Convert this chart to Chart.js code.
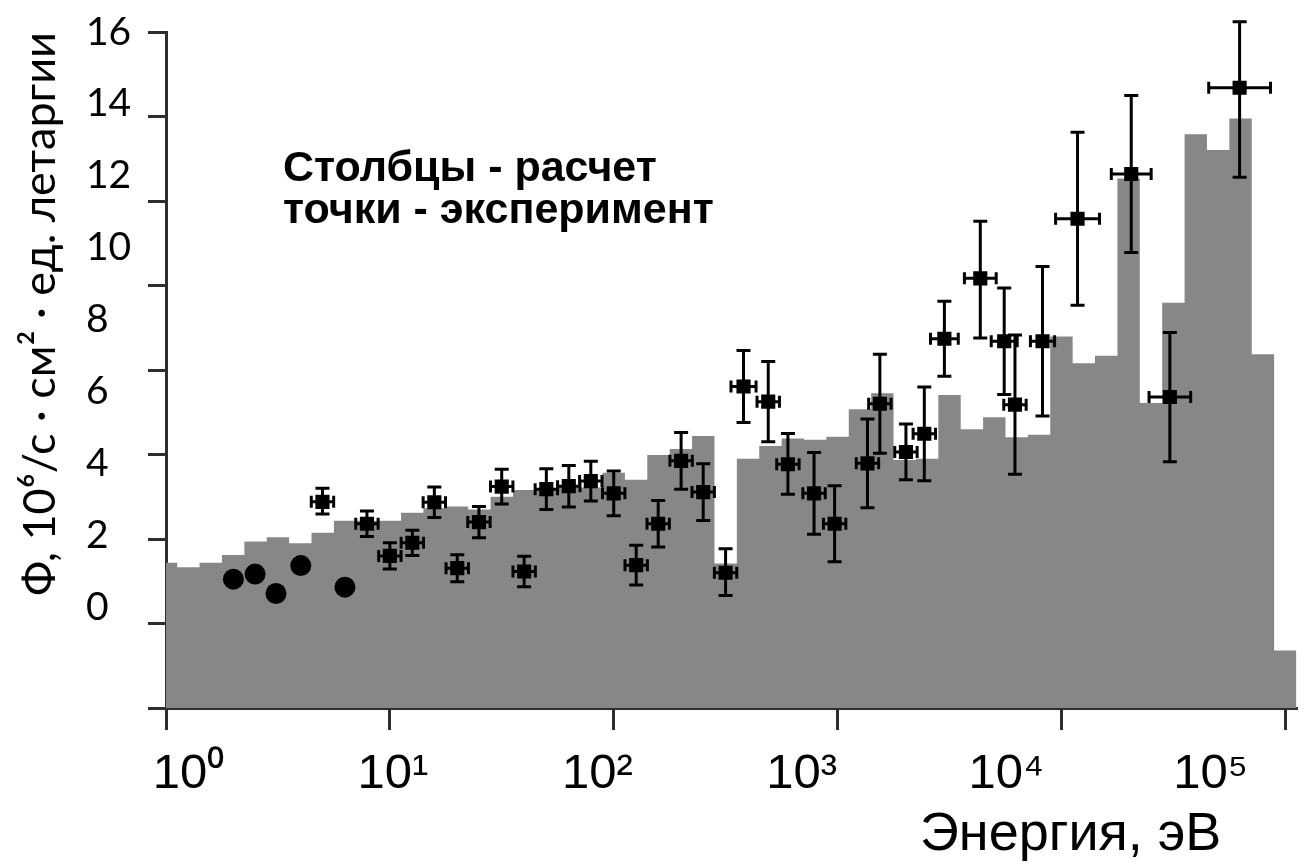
<!DOCTYPE html>
<html lang="ru">
<head>
<meta charset="utf-8">
<title>Спектр нейтронов</title>
<script src="https://cdn.jsdelivr.net/npm/chart.js@4.4.1/dist/chart.umd.min.js"></script>
<style>
  html, body { margin: 0; padding: 0; background: #fff; }
  canvas { display: block; }
</style>
</head>
<body>
<canvas id="spectrumChart" width="1307" height="865"></canvas>
<script>
// Calculated flux, one value per lethargy group (10 groups per decade, group k centred on 10^(k/10) eV)
const calcFlux = [
  3.44, 3.33, 3.44, 3.62, 3.94, 4.04, 3.90, 4.15, 4.43, 4.43,
  4.43, 4.62, 4.73, 4.77, 4.70, 5.00, 5.16, 5.18, 5.24, 5.22,
  5.57, 5.40, 5.99, 6.13, 6.44, 3.42, 5.90, 6.20, 6.38, 6.35,
  6.42, 7.07, 7.45, 5.87, 5.90, 7.41, 6.60, 6.88, 6.41, 6.47,
  8.79, 8.16, 8.34, 12.53, 7.22, 9.59, 13.58, 13.21, 13.95, 8.37,
  1.36
];

// Measured points: energy (eV), flux, flux errors, energy half-width (decades)
const expEnergy = [
  2.0, 2.5, 3.1, 4.0, 5.0, 6.3, 7.9, 10, 12.6, 15.8,
  20, 25, 31.6, 39.8, 50, 63, 79, 100, 126, 158,
  200, 251, 316, 380, 490, 600, 785, 970, 1360, 1545,
  2020, 2440, 3000, 4340, 5550, 6200, 8230, 11800, 20500, 30500,
  62500
];
const expFlux = [
  3.05, 3.17, 2.71, 3.37, 4.88, 2.86, 4.36, 3.60, 3.91, 4.87,
  3.31, 4.40, 5.24, 3.23, 5.18, 5.25, 5.37, 5.08, 3.38, 4.36,
  5.85, 5.11, 3.20, 7.61, 7.25, 5.77, 5.08, 4.36, 5.79, 7.20,
  6.06, 6.49, 8.74, 10.17, 8.68, 7.18, 8.68, 11.58, 12.64, 7.36,
  14.68
];
const expErrUp = [
  0, 0, 0, 0, 0.32, 0, 0.30, 0.31, 0.30, 0.36,
  0.32, 0.37, 0.41, 0.36, 0.48, 0.49, 0.47, 0.53, 0.47, 0.55,
  0.67, 0.67, 0.57, 0.85, 0.95, 0.73, 0.97, 0.90, 1.05, 1.17,
  0.66, 1.11, 0.89, 1.35, 1.26, 1.65, 1.77, 2.05, 1.86, 1.53,
  1.56
];
const expErrDown = [
  0, 0, 0, 0, 0.29, 0, 0.30, 0.31, 0.30, 0.36,
  0.32, 0.37, 0.41, 0.36, 0.48, 0.49, 0.47, 0.53, 0.47, 0.55,
  0.67, 0.67, 0.54, 0.85, 0.95, 0.71, 0.97, 0.90, 1.05, 1.17,
  0.66, 1.11, 0.89, 1.41, 1.26, 1.65, 1.77, 2.05, 1.86, 1.53,
  2.12
];
const expEnergyErr = [
  0, 0, 0, 0, 0.05, 0, 0.05, 0.05, 0.05, 0.05,
  0.05, 0.05, 0.05, 0.05, 0.05, 0.05, 0.05, 0.05, 0.05, 0.05,
  0.05, 0.05, 0.05, 0.056, 0.05, 0.05, 0.05, 0.05, 0.05, 0.05,
  0.05, 0.05, 0.062, 0.071, 0.058, 0.05, 0.054, 0.098, 0.089, 0.093,
  0.138
];

// Axis ticks and labels
const yTickValues = [0, 2, 4, 6, 8, 10, 12, 14, 16];
const xDecades = [0, 1, 2, 3, 4, 5];
const xTickLabels = ['10⁰', '10¹', '10²', '10³', '10⁴', '10⁵'];
const yTitle = 'Ф, 10⁶/с · см² · ед. летаргии';
const xTitle = 'Энергия, эВ';
const noteLines = ['Столбцы - расчет', 'точки - эксперимент'];

const axisColor = '#2e2e2e';

// Histogram outline: each group is a flat top between its lower and upper edge
const groupUpper = calcFlux.map((_, k) => 10 ** ((k + 0.5) / 10));
const histData = [];
calcFlux.forEach((v, k) => {
  histData.push({ x: k === 0 ? 1 : groupUpper[k - 1], y: v });
  histData.push({ x: groupUpper[k], y: v });
});

const pointData = expEnergy.map((e, i) => ({ x: e, y: expFlux[i] }));

// Vertical and horizontal error bars with caps
const errorBars = {
  id: 'errorBars',
  afterDatasetsDraw(chart) {
    const { ctx } = chart;
    const x = chart.scales.x;
    const y = chart.scales.y;
    ctx.save();
    ctx.strokeStyle = '#000';
    ctx.lineWidth = 3;
    ctx.beginPath();
    expEnergy.forEach((e, i) => {
      const px = x.getPixelForValue(e);
      const py = y.getPixelForValue(expFlux[i]);
      if (expErrUp[i] || expErrDown[i]) {
        const top = y.getPixelForValue(expFlux[i] + expErrUp[i]);
        const bot = y.getPixelForValue(expFlux[i] - expErrDown[i]);
        ctx.moveTo(px, top); ctx.lineTo(px, bot);
        ctx.moveTo(px - 7, top); ctx.lineTo(px + 7, top);
        ctx.moveTo(px - 7, bot); ctx.lineTo(px + 7, bot);
      }
      if (expEnergyErr[i]) {
        const lo = x.getPixelForValue(e / 10 ** expEnergyErr[i]);
        const hi = x.getPixelForValue(e * 10 ** expEnergyErr[i]);
        ctx.moveTo(lo, py); ctx.lineTo(hi, py);
        ctx.moveTo(lo, py - 6); ctx.lineTo(lo, py + 6);
        ctx.moveTo(hi, py - 6); ctx.lineTo(hi, py + 6);
      }
    });
    ctx.stroke();
    ctx.restore();
  }
};

// Inline note and the energy axis caption
const captions = {
  id: 'captions',
  afterDraw(chart) {
    const { ctx, chartArea } = chart;
    ctx.save();
    ctx.fillStyle = '#000';
    ctx.textAlign = 'left';
    ctx.textBaseline = 'alphabetic';
    ctx.font = 'bold 43px "Liberation Sans", Arial, sans-serif';
    ctx.fillText(noteLines[0], chartArea.left + 117, 181);
    ctx.fillText(noteLines[1], chartArea.left + 117, 223);
    ctx.font = '54px "Liberation Sans", Arial, sans-serif';
    ctx.fillText(xTitle, chartArea.left + 754, 850);
    ctx.restore();
  }
};

const ctx = document.getElementById('spectrumChart');
new Chart(ctx, {
  data: {
    datasets: [
      {
        type: 'scatter',
        label: 'эксперимент',
        data: pointData,
        order: 0,
        backgroundColor: '#000',
        borderColor: '#000',
        borderWidth: 0,
        pointStyle: (c) => (expErrUp[c.dataIndex] ? 'rect' : 'circle'),
        pointRadius: (c) => (expErrUp[c.dataIndex] ? 10 : 10.5)
      },
      {
        type: 'line',
        label: 'расчет',
        data: histData,
        order: 1,
        fill: 'origin',
        backgroundColor: '#878787',
        borderWidth: 0,
        pointRadius: 0,
        tension: 0
      }
    ]
  },
  options: {
    responsive: false,
    animation: false,
    layout: { padding: { top: 32, right: 5, left: 0, bottom: 0 } },
    plugins: {
      legend: { display: false },
      tooltip: { enabled: false }
    },
    scales: {
      x: {
        type: 'logarithmic',
        position: 'bottom',
        weight: 1,
        min: 1,
        max: 10 ** 5.05,
        afterBuildTicks: (axis) => { axis.ticks = xDecades.map(d => ({ value: 10 ** d })); },
        afterFit: (axis) => { axis.height = 22; },
        ticks: { display: false },
        grid: { drawOnChartArea: false, drawTicks: true, tickLength: 22, color: axisColor, lineWidth: 3 },
        border: { color: axisColor, width: 3 }
      },
      xLab: {
        type: 'linear',
        position: 'bottom',
        weight: 2,
        min: -0.11,
        max: 5.42,
        afterBuildTicks: (axis) => { axis.ticks = xDecades.map(d => ({ value: d })); },
        afterFit: (axis) => { axis.height = 135; },
        grid: { display: false, drawTicks: false },
        border: { display: false },
        ticks: {
          color: '#000',
          padding: 15,
          maxRotation: 0,
          autoSkip: false,
          font: { family: '"Liberation Sans", Arial, sans-serif', size: 49 },
          callback: (v, i) => xTickLabels[i]
        }
      },
      y: {
        type: 'linear',
        position: 'left',
        weight: 1,
        min: 0,
        max: 16,
        afterBuildTicks: (axis) => { axis.ticks = yTickValues.map(v => ({ value: v })); },
        afterFit: (axis) => { axis.width = 18; },
        ticks: { display: false },
        grid: { drawOnChartArea: false, drawTicks: true, tickLength: 18, color: axisColor, lineWidth: 3 },
        border: { color: axisColor, width: 3 }
      },
      yLab: {
        type: 'linear',
        position: 'left',
        weight: 2,
        min: -2.81,
        max: 16,
        afterBuildTicks: (axis) => { axis.ticks = yTickValues.map(v => ({ value: v })); },
        afterFit: (axis) => { axis.width = 62; },
        grid: { display: false, drawTicks: false },
        border: { display: false },
        ticks: {
          color: '#000',
          padding: 0,
          crossAlign: 'far',
          font: { family: 'Lato, sans-serif', size: 39 },
          callback: (v) => String(v)
        }
      },
      yTitle: {
        type: 'linear',
        position: 'left',
        weight: 3,
        afterFit: (axis) => { axis.width = 86; },
        grid: { display: false, drawTicks: false },
        border: { display: false },
        ticks: { display: false },
        title: {
          display: true,
          text: yTitle,
          align: 'end',
          color: '#000',
          padding: { top: 13, bottom: 0 },
          font: { family: 'Lato, sans-serif', size: 45 }
        }
      }
    }
  },
  plugins: [errorBars, captions]
});
</script>
</body>
</html>
